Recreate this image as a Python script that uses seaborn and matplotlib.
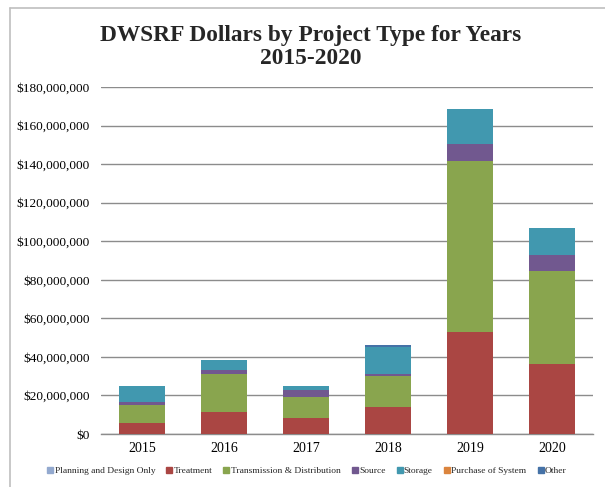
import matplotlib
matplotlib.use("Agg")
import matplotlib.pyplot as plt
import seaborn as sns
import pandas as pd
import numpy as np
from matplotlib.lines import Line2D
from matplotlib.ticker import FuncFormatter

years = ["2015", "2016", "2017", "2018", "2019", "2020"]
types = ["Planning and Design Only", "Treatment", "Transmission & Distribution",
         "Source", "Storage", "Purchase of System", "Other"]
planning = [0, 0, 0, 0, 0, 0]
treatment = [5.9e6, 11.2e6, 8.4e6, 13.8e6, 53.0e6, 36.4e6]
transmission = [9.3e6, 20.0e6, 10.9e6, 16.4e6, 88.6e6, 47.9e6]
source = [1.2e6, 1.8e6, 3.7e6, 1.0e6, 9.0e6, 8.4e6]
storage = [8.3e6, 5.3e6, 1.9e6, 14.0e6, 17.8e6, 14.0e6]
purchase = [0, 0, 0, 0, 0, 0]
other = [0, 0, 0, 0.9e6, 0, 0]
colors = ["#93A9CF", "#AA4643", "#89A54E", "#71588F", "#4198AF", "#DB843D", "#4572A7"]

series = [planning, treatment, transmission, source, storage, purchase, other]
df = pd.DataFrame({"Year": years})
cum = np.zeros(len(years))
for name, vals in zip(types, series):
    cum = cum + np.array(vals, dtype=float)
    df[name] = cum.copy()

sns.set_theme(style="white")
plt.rcParams["font.family"] = ["Liberation Serif", "DejaVu Serif"]

fig = plt.figure(figsize=(6.05, 4.87), dpi=100)
ax = fig.add_axes([101/605, 1 - 434/487, 492/605, (434 - 87)/487])

# draw from the top layer down so lower layers overlay
for name, col in reversed(list(zip(types, colors))):
    sns.barplot(data=df, x="Year", y=name, order=years, color=col,
                width=0.57, ax=ax, saturation=1, edgecolor="none", linewidth=0,
                zorder=3)

ax.set_ylim(0, 180e6)
ax.set_yticks(np.arange(0, 180e6 + 1, 20e6))
ax.yaxis.set_major_formatter(FuncFormatter(lambda v, p: "${:,.0f}".format(v)))
ax.grid(axis="y", color="#8C8C8C", linewidth=1.0, zorder=0)
ax.set_axisbelow(True)
ax.set_xlabel("")
ax.set_ylabel("")
for s in ["top", "right", "left"]:
    ax.spines[s].set_visible(False)
ax.spines["bottom"].set_color("#8C8C8C")
ax.spines["bottom"].set_linewidth(1.0)
ax.tick_params(axis="y", length=0, pad=8, labelsize=9.5, colors="black")
ax.tick_params(axis="x", length=0, pad=6, labelsize=10, colors="black")
ax.set_xlim(-0.5, 5.5)

fig.text(0.513, 1 - 47/487, "DWSRF Dollars by Project Type for Years\n2015-2020",
         ha="center", va="center", fontsize=16.8, fontweight="bold",
         linespacing=1.15)

handles = [Line2D([0], [0], marker="s", linestyle="none", markersize=4,
                  markerfacecolor=c, markeredgecolor=c) for c in colors]
fig.legend(handles, types, loc="center", bbox_to_anchor=(0.507, 1 - 471/487),
           ncol=7, frameon=False, fontsize=6.8, handlelength=0.7,
           handletextpad=0.1, columnspacing=1.15)

# outer frame (top and left visible in the crop)
fig.add_artist(Line2D([10/605, 10/605], [0, 1 - 8/487], transform=fig.transFigure,
                      color="#BFBFBF", linewidth=1.2))
fig.add_artist(Line2D([10/605, 1], [1 - 8/487, 1 - 8/487], transform=fig.transFigure,
                      color="#BFBFBF", linewidth=1.2))

fig.savefig("out.png", dpi=100)
